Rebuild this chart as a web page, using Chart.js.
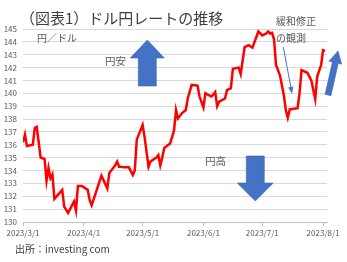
<!DOCTYPE html>
<html>
<head>
<meta charset="utf-8">
<script src="https://cdn.jsdelivr.net/npm/chart.js@4.4.0/dist/chart.umd.min.js"></script>
<style>
  body { margin: 0; background: #fff; }
  #c { display: block; }
</style>
</head>
<body>
<canvas id="c" width="347" height="262"></canvas>
<script>
// ドル円 (円/ドル) 2023/3/1 - 2023/8/2
var dates = ['3/1','3/2','3/3','3/6','3/7','3/8','3/10','3/12','3/13','3/14','3/15','3/16','3/17',
  '3/21','3/22','3/24','3/27','3/28','3/29','3/31','4/3','4/4','4/5','4/10','4/13','4/14','4/17',
  '4/18','4/19','4/20','4/21','4/24','4/26','4/27','4/28','5/1','5/2','5/4','5/5','5/8','5/9',
  '5/10','5/11','5/12','5/15','5/16','5/17','5/18','5/19','5/21','5/23','5/24','5/26','5/29',
  '5/30','6/1','6/2','6/5','6/6','6/7','6/8','6/9','6/12','6/13','6/15','6/16','6/19','6/20',
  '6/22','6/24','6/26','6/29','7/1','7/3','7/4','7/5','7/6','7/7','7/8','7/10','7/12','7/13',
  '7/14','7/15','7/17','7/19','7/20','7/21','7/24','7/26','7/28','7/29','7/31','8/1','8/2'];
var rates = [136.2,136.8,135.9,136.0,137.3,137.4,135.0,134.9,133.2,134.2,133.4,133.7,131.8,
  132.5,131.2,130.7,131.6,130.9,132.8,132.8,132.5,131.7,131.3,133.6,132.6,133.8,134.4,
  134.7,134.3,134.3,134.25,134.25,133.65,134.0,136.4,137.55,136.6,134.3,134.7,135.0,135.2,
  134.4,135.0,135.75,136.1,136.6,137.1,138.7,138.05,138.45,138.7,139.6,140.65,140.6,
  139.75,138.9,140.0,139.75,139.9,140.1,139.0,139.35,139.6,140.25,140.4,141.9,142.0,141.5,
  143.6,143.75,143.55,144.8,144.5,144.65,144.8,144.65,144.7,144.2,142.2,141.4,139.85,138.7,
  138.1,138.75,138.8,138.85,140.0,141.8,141.6,141.0,139.55,141.3,142.2,143.35,143.3];
var monthTicks = [0, 31, 61, 92, 122, 153];
var monthLabels = ['2023/3/1','2023/4/1','2023/5/1','2023/6/1','2023/7/1','2023/8/1'];

function dayOf(s) {
  var p = s.split('/');
  return (Date.UTC(2023, +p[0] - 1, +p[1]) - Date.UTC(2023, 2, 1)) / 86400000;
}

var points = [];
for (var i = 0; i < dates.length; i++) {
  points.push({ x: dayOf(dates[i]), y: rates[i] });
}

var FONT = '"Noto Sans CJK JP", "Noto Sans", sans-serif';
var BLUE = '#4472C4';

function blockArrow(ctx, x0, y0, x1, y1, shaftW, headW, headL) {
  var dx = x1 - x0, dy = y1 - y0;
  var len = Math.sqrt(dx * dx + dy * dy);
  var ux = dx / len, uy = dy / len, nx = -uy, ny = ux;
  var bx = x1 - ux * headL, by = y1 - uy * headL;
  ctx.beginPath();
  ctx.moveTo(x0 + nx * shaftW / 2, y0 + ny * shaftW / 2);
  ctx.lineTo(bx + nx * shaftW / 2, by + ny * shaftW / 2);
  ctx.lineTo(bx + nx * headW / 2, by + ny * headW / 2);
  ctx.lineTo(x1, y1);
  ctx.lineTo(bx - nx * headW / 2, by - ny * headW / 2);
  ctx.lineTo(bx - nx * shaftW / 2, by - ny * shaftW / 2);
  ctx.lineTo(x0 - nx * shaftW / 2, y0 - ny * shaftW / 2);
  ctx.closePath();
  ctx.fillStyle = BLUE;
  ctx.fill();
  ctx.strokeStyle = '#3A66B0';
  ctx.lineWidth = 0.6;
  ctx.stroke();
}

var annotations = {
  id: 'annotations',
  afterDraw: function(chart) {
    var ctx = chart.ctx;
    ctx.save();
    ctx.textBaseline = 'middle';
    ctx.textAlign = 'left';
    ctx.fillStyle = '#404040';
    ctx.font = '15px ' + FONT;
    ctx.fillText('（図表1）ドル円レートの推移', 20, 18);

    ctx.fillStyle = '#595959';
    ctx.font = '10px ' + FONT;
    ctx.fillText('円／ドル', 37, 38);
    ctx.fillText('緩和修正', 276, 21);
    ctx.fillText('の観測', 276, 38);
    ctx.font = '10.5px ' + FONT;
    ctx.fillText('円安', 105, 61);
    ctx.fillText('円高', 205, 161);

    ctx.fillStyle = '#404040';
    ctx.font = '10px ' + FONT;
    ctx.fillText('出所：investing com', 15, 249);

    // 円安 / 円高 arrows
    blockArrow(ctx, 147.3, 86, 147.3, 40, 18, 34, 18);
    blockArrow(ctx, 255.3, 156, 255.3, 201, 18, 36, 18);
    // rebound arrow
    blockArrow(ctx, 328, 95, 338, 51, 6, 13, 12);

    // thin pointer
    ctx.strokeStyle = BLUE;
    ctx.fillStyle = BLUE;
    ctx.lineWidth = 1;
    ctx.beginPath();
    ctx.moveTo(283.3, 47);
    ctx.lineTo(291, 88);
    ctx.stroke();
    ctx.beginPath();
    ctx.moveTo(292, 94);
    ctx.lineTo(288.3, 87.5);
    ctx.lineTo(293.3, 86.6);
    ctx.closePath();
    ctx.fill();
    ctx.restore();
  }
};

new Chart(document.getElementById('c'), {
  type: 'line',
  data: {
    datasets: [{
      data: points,
      borderColor: '#FF0000',
      borderWidth: 2.5,
      pointRadius: 0,
      tension: 0,
      fill: false
    }]
  },
  options: {
    responsive: false,
    animation: false,
    layout: { padding: { top: 29, right: 20, left: 0, bottom: 0 } },
    plugins: { legend: { display: false }, tooltip: { enabled: false } },
    scales: {
      x: {
        type: 'linear',
        min: 0,
        max: 155,
        afterBuildTicks: function(scale) {
          scale.ticks = monthTicks.map(function(v) { return { value: v }; });
        },
        afterFit: function(scale) { scale.height = 40; },
        ticks: {
          autoSkip: false,
          maxRotation: 0,
          padding: 2,
          color: '#595959',
          font: { size: 8, family: FONT },
          callback: function(v) {
            var k = monthTicks.indexOf(v);
            return k >= 0 ? monthLabels[k] : '';
          }
        },
        grid: { drawOnChartArea: false, drawTicks: true, tickLength: 4, color: '#bfbfbf' },
        border: { display: true, color: '#bfbfbf' }
      },
      y: {
        min: 130,
        max: 145,
        afterFit: function(scale) { scale.width = 23; },
        ticks: {
          stepSize: 1,
          padding: 6,
          color: '#595959',
          font: { size: 8, family: FONT }
        },
        grid: { color: '#d9d9d9', drawTicks: false },
        border: { display: false }
      }
    }
  },
  plugins: [annotations]
});
</script>
</body>
</html>
